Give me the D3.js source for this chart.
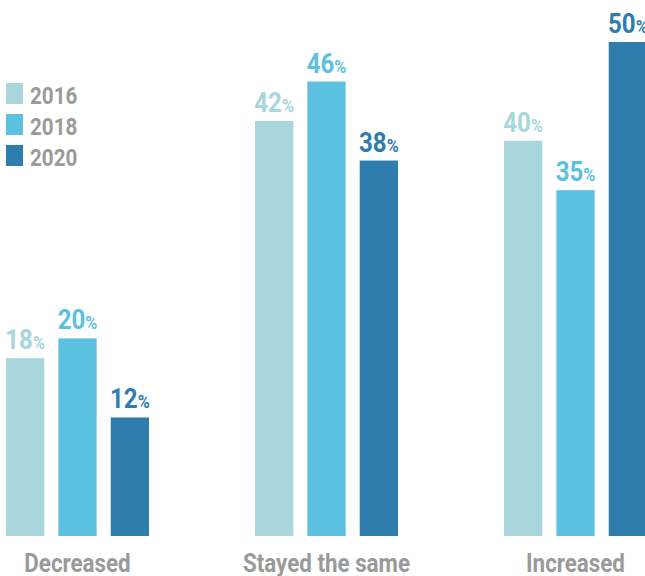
<!DOCTYPE html>
<html><head><meta charset="utf-8">
<script src="https://cdn.jsdelivr.net/npm/d3@7"></script>
<style>body{margin:0;background:#fff}svg{display:block}</style>
</head><body>
<svg id="c" width="645" height="576"></svg>
<script>
const categories = ["Decreased", "Stayed the same", "Increased"];
const years = ["2016", "2018", "2020"];
const values2016 = [18, 42, 40];
const values2018 = [20, 46, 35];
const values2020 = [12, 38, 50];
const colors = ["#a9d5dc", "#5cc1e0", "#2f7dad"];

const series = [values2016, values2018, values2020];
const svg = d3.select("#c");
const FONT = "Roboto, 'Noto Sans', sans-serif";
const SX = 0.86;

const x0 = d3.scaleBand().domain(categories).range([6, 647]).paddingInner(0.4257).paddingOuter(0);
const x1 = d3.scaleBand().domain(years).range([0, x0.bandwidth()]).paddingInner(0.269).paddingOuter(0);
const y = d3.scaleLinear().domain([0, 50]).range([536, 42]);

const data = [];
categories.forEach((c, i) => years.forEach((yr, j) => data.push({c, yr, j, v: series[j][i]})));

svg.selectAll("rect.bar").data(data).enter().append("rect")
  .attr("class", "bar")
  .attr("x", d => x0(d.c) + x1(d.yr))
  .attr("y", d => y(d.v))
  .attr("width", x1.bandwidth())
  .attr("height", d => y(0) - y(d.v))
  .attr("fill", d => colors[d.j]);

const lbl = svg.selectAll("text.val").data(data).enter().append("text")
  .attr("class", "val")
  .attr("transform", d => `translate(${x0(d.c) + x1(d.yr) + x1.bandwidth() / 2},${y(d.v) - 9}) scale(${SX},1)`)
  .attr("text-anchor", "middle")
  .attr("font-family", FONT)
  .attr("font-weight", 700)
  .attr("fill", d => colors[d.j]);
lbl.append("tspan").attr("font-size", 28).text(d => d.v);
lbl.append("tspan").attr("font-size", 19).text("%");

svg.selectAll("text.cat").data(categories).enter().append("text")
  .attr("class", "cat")
  .attr("transform", d => `translate(${x0(d) + x0.bandwidth() / 2},572) scale(${SX},1)`)
  .attr("text-anchor", "middle")
  .attr("font-family", FONT)
  .attr("font-weight", 700)
  .attr("font-size", 26)
  .attr("fill", "#9a9a9a")
  .text(d => d);

const leg = svg.append("g");
years.forEach((yr, j) => {
  const ty = 104 + j * 31;
  leg.append("rect").attr("x", 6).attr("y", ty - 21).attr("width", 17).attr("height", 21).attr("fill", colors[j]);
  leg.append("text")
    .attr("transform", `translate(30,${ty}) scale(${SX},1)`)
    .attr("font-family", FONT).attr("font-weight", 700).attr("font-size", 24)
    .attr("fill", "#9a9a9a").text(yr);
});
</script>
</body></html>
